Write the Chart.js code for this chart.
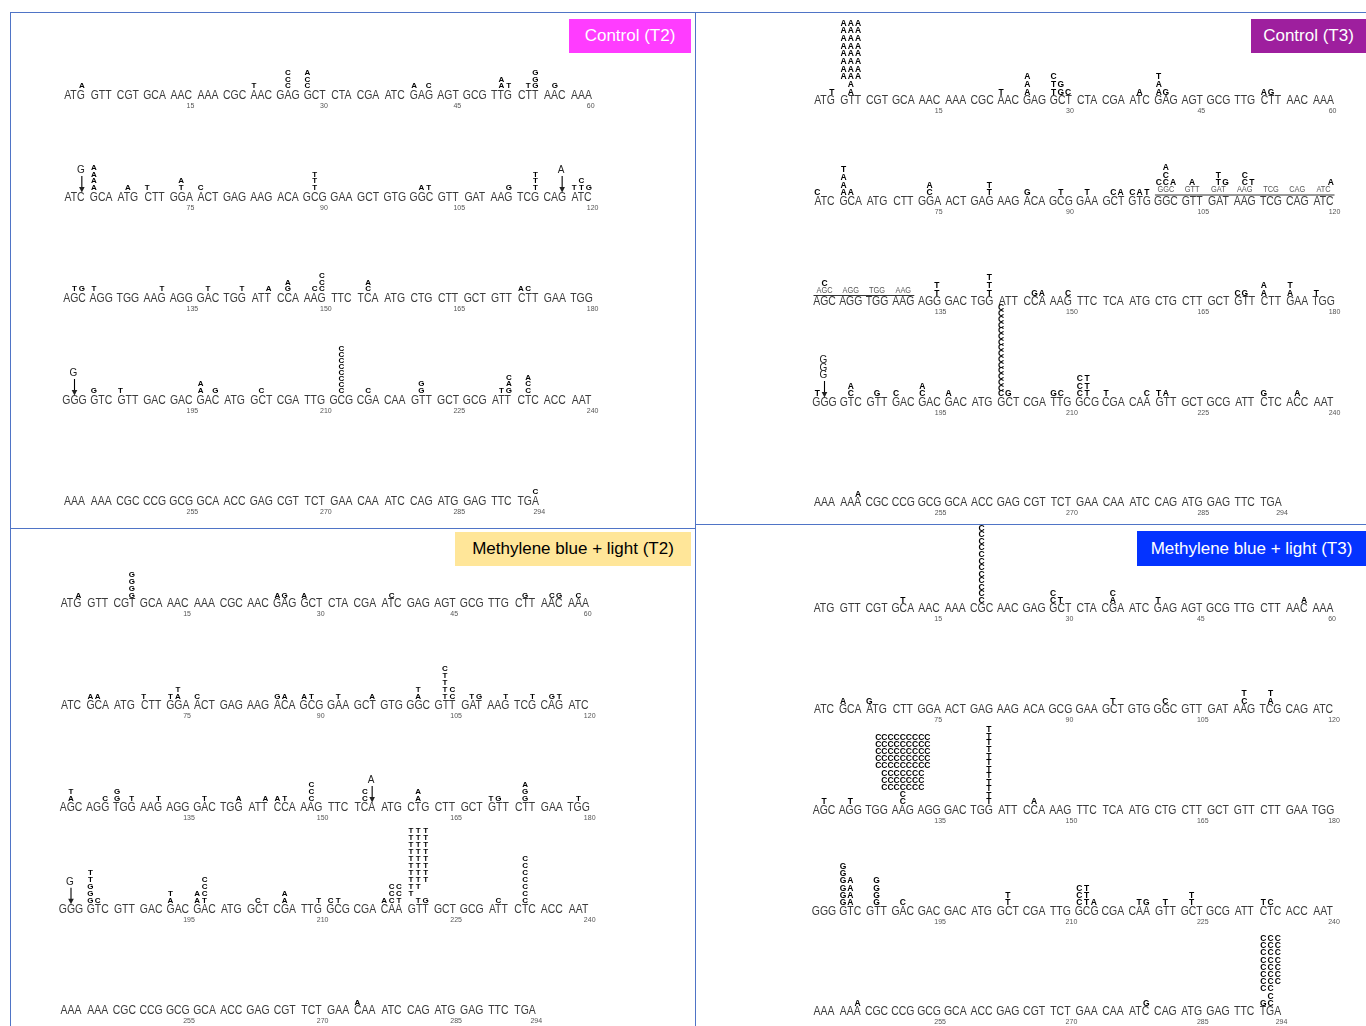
<!DOCTYPE html>
<html><head><meta charset="utf-8">
<script src="https://cdn.jsdelivr.net/npm/chart.js@4/dist/chart.umd.min.js"></script>
<style>
html,body{margin:0;padding:0;background:#fff}
body{width:1366px;height:1026px;position:relative;overflow:hidden;font-family:"Liberation Sans",Arial,sans-serif}
.panel{position:absolute}
.line{position:absolute;background:#4f74c6}
.title{position:absolute;display:flex;align-items:center;justify-content:center;font-size:17px;font-family:"Liberation Sans",Arial,sans-serif}
</style></head><body>
<script>
// ---------------- DATA ----------------
const codons = [
"ATG","GTT","CGT","GCA","AAC","AAA","CGC","AAC","GAG","GCT","CTA","CGA","ATC","GAG","AGT","GCG","TTG","CTT","AAC","AAA",
"ATC","GCA","ATG","CTT","GGA","ACT","GAG","AAG","ACA","GCG","GAA","GCT","GTG","GGC","GTT","GAT","AAG","TCG","CAG","ATC",
"AGC","AGG","TGG","AAG","AGG","GAC","TGG","ATT","CCA","AAG","TTC","TCA","ATG","CTG","CTT","GCT","GTT","CTT","GAA","TGG",
"GGG","GTC","GTT","GAC","GAC","GAC","ATG","GCT","CGA","TTG","GCG","CGA","CAA","GTT","GCT","GCG","ATT","CTC","ACC","AAT",
"AAA","AAA","CGC","CCG","GCG","GCA","ACC","GAG","CGT","TCT","GAA","CAA","ATC","CAG","ATG","GAG","TTC","TGA"];

const positionLabels = [15,30,45,60,75,90,105,120,135,150,165,180,195,210,225,240,255,270,285,294];

const panelTitles = ["Control (T2)","Control (T3)","Methylene blue + light (T2)","Methylene blue + light (T3)"];

// mutations: [nucleotide position, stacked bases bottom->top (space = empty level)]
const mutControlT2 = [
[3,"A"],[22,"T"],[26,"CCC"],[28,"CCA"],[40,"A"],[42,"C"],[50,"AA"],[51,"T"],[53,"T"],[54,"GGG"],[56,"G"],
[64,"AAAA"],[68,"A"],[70,"T"],[74,"TA"],[76,"C"],[89,"TTT"],[101,"A"],[102,"T"],[111,"G"],[114,"TTT"],[118,"T"],[119,"TC"],[120,"G"],
[122,"T"],[123,"G"],[124,"T"],[132,"T"],[137,"T"],[141,"T"],[144,"A"],[146,"GA"],[149,"C"],[150,"CCC"],[155,"CA"],[172,"A"],[173,"C"],
[184,"G"],[187,"T"],[196,"AA"],[198,"G"],[203,"C"],[212,"CCCCCCCC"],[215,"C"],[221,"GG"],[230,"T"],[231,"GAC"],[233,"CCA"],
[294,"C"]];
const insControlT2 = [[63,"G"],[117,"A"],[182,"G"]];
const dupControlT2 = [];

const mutControlT3 = [
[3,"T"],[4,"  AAAAAAAA"],[5,"AAAAAAAAAA"],[6,"  AAAAAAAA"],[22,"T"],[25,"AAA"],[28,"TTC"],[29,"GG"],[30,"C"],[38,"A"],[40,"AAT"],[41,"G"],[52,"A"],[53,"G"],
[61,"C"],[64,"AAAT"],[65,"A"],[74,"CA"],[81,"TT"],[85,"G"],[89,"T"],[92,"T"],[95,"C"],[96,"A"],[97,"C"],[98,"A"],[99,"T"],
[100,"C"],[101,"CCA"],[102,"A"],[104,"A"],[107,"TT"],[108,"G"],[110,"CC"],[111,"T"],[120,"A"],
[122,"C"],[135,"TT"],[141,"TTT"],[146,"G"],[147,"A"],[150,"C"],[169,"C"],[170,"G"],[172,"AA"],[175,"AT"],[178,"T"],
[181,"T"],[185,"CA"],[188,"G"],[190,"C"],[193,"CA"],[196,"A"],[202,"CCCCCCCCCCCCCCCC"],[203,"G"],[208,"G"],[209,"C"],
[211,"CCC"],[212,"TTT"],[214,"T"],[219,"C"],[220,"T"],[221,"A"],[232,"G"],[236,"A"],
[246,"A"]];
const insControlT3 = [[182,"GGG"]];
const dupControlT3 = [[34,40],[41,44]]; // duplicated codon ranges (codon numbers)

const mutMBT2 = [
[3,"A"],[9,"GGGG"],[25,"A"],[26,"G"],[28,"A"],[38,"C"],[53,"G"],[56,"C"],[57,"G"],[59,"C"],
[64,"A"],[65,"A"],[70,"T"],[73,"T"],[74,"AT"],[76,"C"],[85,"G"],[86,"A"],[88,"A"],[89,"T"],[92,"T"],[96,"A"],[101,"AT"],
[104,"TTTTC"],[105,"CC"],[107,"T"],[108,"G"],[111,"T"],[114,"T"],[116,"G"],[117,"T"],
[122,"AT"],[126,"C"],[127,"GG"],[129,"T"],[132,"T"],[137,"T"],[141,"A"],[144,"A"],[145,"A"],[146,"T"],[149,"CCC"],[155,"CC"],
[161,"AA"],[169,"T"],[170,"G"],[173,"GGA"],[179,"T"],
[184,"GGGTT"],[185,"C"],[193,"AT"],[196,"AA"],[197,"TCCC"],[203,"C"],[206,"AA"],[210,"T"],[211,"C"],[212,"T"],
[217,"A"],[218,"CCC"],[219,"TCC"],[220," TTTTTTTTTT"],[221,"T TTTTTTTTT"],[222,"G  TTTTTTTT"],[230,"C"],[233,"CCCCCCC"],
[274,"A"]];
const insMBT2 = [[156,"A"],[182,"G"]];
const dupMBT2 = [];

const mutMBT3 = [
[11,"T"],[20,"CCCCCCCCCCCC"],[28,"CC"],[29,"T"],[35,"AC"],[40,"T"],[57,"A"],
[64,"A"],[67,"G"],[95,"T"],[101,"C"],[110,"CT"],[113,"AT"],
[122,"T"],[125,"T"],
[131,["C","C","CCCCCCC","CCCCCCC","CCCCCCC","CCCCCCCCC","CCCCCCCCC","CCCCCCCCC","CCCCCCCCC","CCCCCCCCC"]],
[141,"TTTTTTTTTTTT"],[146,"A"],
[184,"GGGGGG"],[185,"AAAA"],[188,"GGGG"],[191,"C"],[203,"TT"],[211,"CCC"],[212,"TTT"],[213,"A"],[218,"T"],[219,"G"],
[221,"T"],[224,"TT"],[232,"T"],[233,"C"],
[246,"A"],[279,"G"],[292,"G CCCCCCCC"],[293,"CCCCCCCCCC"],[294,"   CCCCCCC"]];
const insMBT3 = [];
const dupMBT3 = [];

// ---------------- DRAWING ----------------
const LETTER = 0.275; // letter offset within a codon, in codon units
function ntPoint(n){ const i=(n-1)%60; return {x: Math.floor(i/3)+1+((i%3)-1)*LETTER, y: Math.floor((n-1)/60)+1}; }

const FONT = '"Liberation Sans", Arial, sans-serif';

function narrowText(ctx, t, x, y, sx){
  ctx.save(); ctx.translate(x, y); ctx.scale(sx, 1); ctx.fillText(t, 0, 0); ctx.restore();
}

const seqPlugin = {
  id:'seqText',
  afterDatasetsDraw(chart){
    const ctx = chart.ctx, st = chart.options.plugins.seqText;
    const pts = i => chart.getDatasetMeta(i).data;
    const raw = i => chart.data.datasets[i].data;
    ctx.save();
    ctx.textAlign='center'; ctx.textBaseline='middle';
    // codons
    ctx.font = '12px '+FONT; ctx.fillStyle = '#3a3a3a';
    pts(0).forEach((p,j)=>narrowText(ctx, raw(0)[j].t, p.x, p.y, 0.87));
    // position labels
    ctx.font = '7px '+FONT; ctx.fillStyle = '#555'; ctx.textAlign='left';
    pts(1).forEach((p,j)=>ctx.fillText(raw(1)[j].t, p.x-2, p.y+10.5));
    // duplicated codons
    ctx.textAlign='center';
    const dp = pts(4);
    if (dp.length){
      ctx.font = '8.5px '+FONT; ctx.fillStyle = '#555';
      dp.forEach((p,j)=>narrowText(ctx, raw(4)[j].t, p.x, p.y-11.5, 0.87));
      const groups = {};
      dp.forEach((p,j)=>{ const g = raw(4)[j].g; (groups[g]=groups[g]||[]).push(p); });
      ctx.strokeStyle = '#333'; ctx.lineWidth = 1.2;
      Object.values(groups).forEach(arr=>{
        const xs = arr.map(p=>p.x);
        ctx.beginPath(); ctx.moveTo(Math.min(...xs)-11, arr[0].y-6.5); ctx.lineTo(Math.max(...xs)+11, arr[0].y-6.5); ctx.stroke();
      });
    }
    // mutations
    const dupSet = new Set(st.dupCodons);
    ctx.font = 'bold '+st.font+'px '+FONT; ctx.fillStyle = '#000';
    pts(2).forEach((p,j)=>{
      const r = raw(2)[j]; const s = r.s; const lv = Array.isArray(s)? s : s.split('');
      const n = lv.length;
      const step = n>1 ? Math.min(st.step, st.maxSpan/(n-1)) : st.step;
      const lift = dupSet.has(r.codon) ? 10 : 0;
      lv.forEach((c,L)=>{ if(c.trim()) ctx.fillText(c, p.x, p.y - st.base - lift - L*step); });
    });
    // insertions
    pts(3).forEach((p,j)=>{
      const s = raw(3)[j].s.split('');
      ctx.font = '10px '+FONT; ctx.fillStyle = '#222';
      s.forEach((c,L)=>ctx.fillText(c, p.x-1, p.y-27-L*7.5));
      ctx.strokeStyle='#000'; ctx.lineWidth=1.1;
      ctx.beginPath(); ctx.moveTo(p.x, p.y-21.5); ctx.lineTo(p.x, p.y-9); ctx.stroke();
      ctx.beginPath(); ctx.moveTo(p.x-2.8, p.y-10.5); ctx.lineTo(p.x+2.8, p.y-10.5); ctx.lineTo(p.x, p.y-5); ctx.closePath(); ctx.fill();
    });
    ctx.restore();
  }
};

const panels = [
 {title:0, left:10, top:12, w:685, h:516, a:64.5, b:571.5, y1:84, rp:101.5, mut:mutControlT2, ins:insControlT2, dup:dupControlT2, base:10, step:6.6, maxSpan:42, font:8},
 {title:1, left:695, top:12, w:671, h:512, a:129.5, b:628.5, y1:89, rp:100.5, mut:mutControlT3, ins:insControlT3, dup:dupControlT3, base:8.5, step:7.7, maxSpan:86, font:8.5},
 {title:2, left:10, top:528, w:685, h:498, a:61, b:568.5, y1:76, rp:101.75, mut:mutMBT2, ins:insMBT2, dup:dupMBT2, base:8.5, step:7, maxSpan:72, font:8},
 {title:3, left:695, top:524, w:671, h:502, a:129, b:628, y1:85, rp:100.75, mut:mutMBT3, ins:insMBT3, dup:dupMBT3, base:8.5, step:7.2, maxSpan:72, font:8.5}
];

panels.forEach(P=>{
  const cv = document.createElement('canvas');
  cv.width = P.w; cv.height = P.h;
  cv.className='panel'; cv.style.left=P.left+'px'; cv.style.top=P.top+'px';
  cv.style.width=P.w+'px'; cv.style.height=P.h+'px';
  document.body.appendChild(cv);
  const p = (P.b-P.a)/19;
  const dupPts = [], dupCodons = [];
  P.dup.forEach(([c1,c2],g)=>{ for(let c=c1;c<=c2;c++){ const i=c-1; dupCodons.push(c); dupPts.push({x:(i%20)+1, y:Math.floor(i/20)+1, t:codons[i], g}); } });
  const ds = (data)=>({data, pointRadius:0, pointHoverRadius:0, showLine:false});
  new Chart(cv, {
    type:'scatter',
    data:{datasets:[
      ds(codons.map((c,i)=>({x:(i%20)+1, y:Math.floor(i/20)+1, t:c}))),
      ds(positionLabels.map(n=>Object.assign(ntPoint(n),{t:String(n)}))),
      ds(P.mut.map(([n,s])=>Object.assign(ntPoint(n),{s, codon:Math.floor((n-1)/3)+1}))),
      ds(P.ins.map(([n,s])=>Object.assign(ntPoint(n),{s}))),
      ds(dupPts)
    ]},
    options:{
      responsive:false, animation:false, devicePixelRatio:1, events:[],
      layout:{padding:0},
      scales:{
        x:{type:'linear', display:false, min:1-P.a/p, max:1+(P.w-P.a)/p},
        y:{type:'linear', display:false, reverse:true, min:1-P.y1/P.rp, max:1+(P.h-P.y1)/P.rp}
      },
      plugins:{legend:{display:false}, tooltip:{enabled:false},
        seqText:{base:P.base, step:P.step, maxSpan:P.maxSpan, font:P.font, dupCodons}}
    },
    plugins:[seqPlugin]
  });
});

// frame lines
[[10,12,1356,1],[10,12,1,1014],[695,12,1,1014],[10,528,685,1],[695,524,671,1]].forEach(([l,t,w,h])=>{
  const d=document.createElement('div'); d.className='line';
  Object.assign(d.style,{left:l+'px',top:t+'px',width:w+'px',height:h+'px'}); document.body.appendChild(d);
});
// title boxes
[[0,569,19,122,34,'#ff3cff','#fff'],[1,1251,19,115,34,'#9e1f9e','#fff'],[2,455,532,236,34,'#ffe699','#000'],[3,1137,531,229,35,'#0433ff','#fff']].forEach(([i,l,t,w,h,bg,fg])=>{
  const d=document.createElement('div'); d.className='title'; d.textContent=panelTitles[i];
  Object.assign(d.style,{left:l+'px',top:t+'px',width:w+'px',height:h+'px',background:bg,color:fg}); document.body.appendChild(d);
});
</script>
</body></html>
